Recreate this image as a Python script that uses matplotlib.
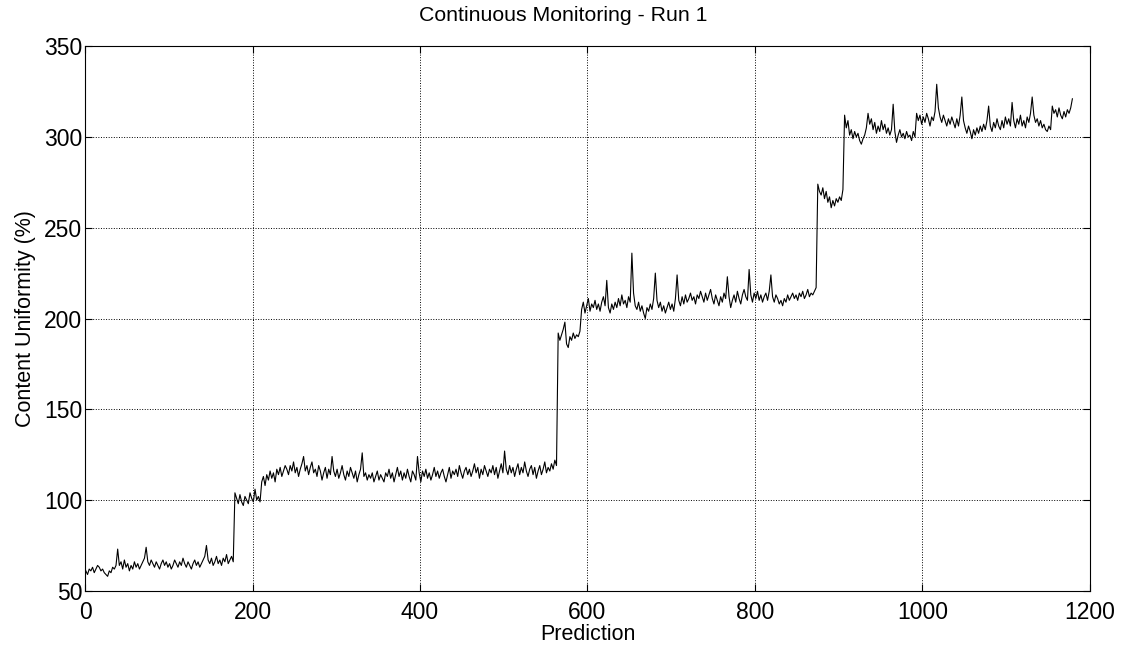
import numpy as np
import matplotlib

matplotlib.use('Agg')
import matplotlib.pyplot as plt

plt.rcParams['font.family'] = ['Liberation Sans', 'DejaVu Sans']

# content uniformity, one value every 2 predictions (1, 3, ..., 1179)
seg_60 = [
    61, 59, 62, 61, 63, 60, 62, 64, 63, 61,
    62, 60, 59, 58, 61, 60, 63, 62, 64, 73,
    64, 66, 62, 67, 63, 65, 61, 64, 62, 66,
    63, 65, 62, 64, 66, 68, 74, 66, 64, 67,
    65, 63, 66, 64, 62, 65, 67, 64, 66, 63,
    65, 62, 64, 67, 65, 63, 66, 64, 68, 65,
    63, 66, 64, 62, 65, 67, 64, 66, 63, 65,
    67, 69, 75, 67, 65, 68, 64, 66, 69, 65,
    67, 64, 68, 66, 70, 65, 67, 69, 66,
]
seg_100 = [104, 101, 98, 103, 99, 97, 102, 100, 98, 104, 101, 99, 106, 100, 102, 99]
seg_110 = [110, 113, 108, 114, 111, 116, 112, 115, 110, 117, 114, 118, 113, 116, 119]
seg_115 = [
    117, 114, 119, 116, 121, 115, 118, 113, 117, 120,
    124, 116, 119, 114, 118, 121, 115, 117, 113, 119,
    116, 111, 115, 118, 112, 117, 114, 124, 116, 113,
    117, 112, 115, 119, 114, 111, 116, 113, 118, 115,
    112, 116, 110, 114, 117, 126, 113, 115, 111, 114,
    112, 115, 110, 113, 116, 111, 114, 112, 110, 115,
    113, 117, 112, 115, 110, 114, 118, 113, 116, 111,
    115, 112, 117, 113, 110, 116, 114, 111, 124, 115,
    110, 116, 113, 117, 112, 115, 111, 114, 118, 113,
    116, 112, 115, 117, 113, 110, 114, 118, 112, 116,
    114, 117, 113, 119, 115, 112, 116, 118, 114, 117,
    113, 116, 120, 115, 118, 112, 117, 114, 119, 116,
    113, 117, 115, 119, 114, 118, 112, 116, 120, 115,
    127, 117, 114, 119, 115, 118, 113, 117, 120, 114,
    118, 115, 121, 116, 113, 117, 119, 114, 118, 112,
    116, 119, 114, 117, 121, 115, 118, 116, 120, 117,
    122, 119,
]
seg_190 = [192, 188, 191, 194, 198, 186, 184, 190, 188, 192, 189, 191, 190, 193]
seg_210 = [
    205, 209, 203, 207, 211, 204, 208, 206, 210, 205,
    208, 204, 209, 212, 207, 221, 206, 203, 208, 205,
    209, 206, 211, 207, 213, 208, 210, 206, 212, 209,
    236, 214, 207, 205, 209, 204, 207, 203, 200, 206,
    204, 208, 205, 211, 225, 210, 206, 209, 204, 207,
    203, 206, 209, 205, 208, 204, 211, 224, 210, 207,
    212, 208, 213, 209, 211, 214, 210, 212, 208, 213,
    211, 215, 212, 209, 214, 210, 213, 216, 211, 208,
    213, 210, 207, 212, 209, 214, 211, 223, 212, 206,
    210, 213, 209, 215, 211, 208, 213, 216, 212, 210,
    227, 213, 209, 214, 211, 215, 210, 213, 209, 212,
    214, 210, 215, 224, 212, 209, 213, 211, 208, 210,
    207, 211, 209, 213, 210, 212, 214, 211, 213, 210,
    214, 212, 215, 211, 213, 216, 212, 214, 213, 215,
    217,
]
seg_265 = [274, 270, 268, 272, 266, 270, 264, 267, 261, 265, 262, 266, 264, 267, 265, 271]
seg_303 = [
    312, 305, 309, 301, 304, 299, 303, 300, 302, 298,
    296, 299, 301, 305, 313, 307, 310, 304, 308, 302,
    306, 303, 309, 304, 307, 302, 305, 301, 304, 318,
    303, 297, 301, 304, 300, 302, 299, 303, 300, 301,
    298, 303, 300,
]
seg_308 = [
    313, 309, 312, 307, 311, 308, 313, 310, 306, 311,
    309, 314, 329, 316, 311, 308, 312, 309, 306, 310,
    307, 311, 308, 305, 310, 306, 312, 322, 309, 305,
    302, 306, 303, 299, 304, 301, 305, 302, 306, 303,
    307, 304, 309, 317, 306, 303, 308, 305, 310, 306,
    304, 309, 305, 311, 307, 310, 306, 319, 309, 305,
    310, 307, 312, 306, 309, 305, 311, 308, 313, 322,
    312, 308, 310, 306, 309, 305, 307, 304, 303, 306,
    304,
]
seg_314 = [317, 313, 315, 311, 316, 312, 310, 314, 311, 315, 313, 316, 321]

uniformity = (seg_60 + seg_100 + seg_110 + seg_115 + seg_190
              + seg_210 + seg_265 + seg_303 + seg_308 + seg_314)
prediction = np.arange(1, 2 * len(uniformity), 2)


def main() -> None:
    fig = plt.figure(figsize=(11.26, 6.5), dpi=100)
    ax = fig.add_axes([0.0755, 0.091, 0.8925, 0.838])

    ax.plot(prediction, uniformity, color='black', linewidth=0.8)

    ax.set_xlim(0, 1200)
    ax.set_ylim(50, 350)
    ax.set_xticks(np.arange(0, 1201, 200))
    ax.set_yticks(np.arange(50, 351, 50))
    ax.tick_params(direction='in', labelsize=16.5, length=5, top=True, right=True)
    ax.tick_params(axis='y', pad=2)
    ax.tick_params(axis='x', pad=7)
    ax.grid(True, linestyle=':', color='black', linewidth=0.7)
    for spine in ax.spines.values():
        spine.set_linewidth(0.8)

    ax.set_xlabel('Prediction', fontsize=15.5, labelpad=0)
    ax.set_ylabel('Content Uniformity (%)', fontsize=15.5, labelpad=6)
    ax.set_title('Continuous Monitoring - Run 1', fontsize=15.3, pad=18, x=0.476)

    fig.savefig('out.png', dpi=100)


if __name__ == '__main__':
    main()
